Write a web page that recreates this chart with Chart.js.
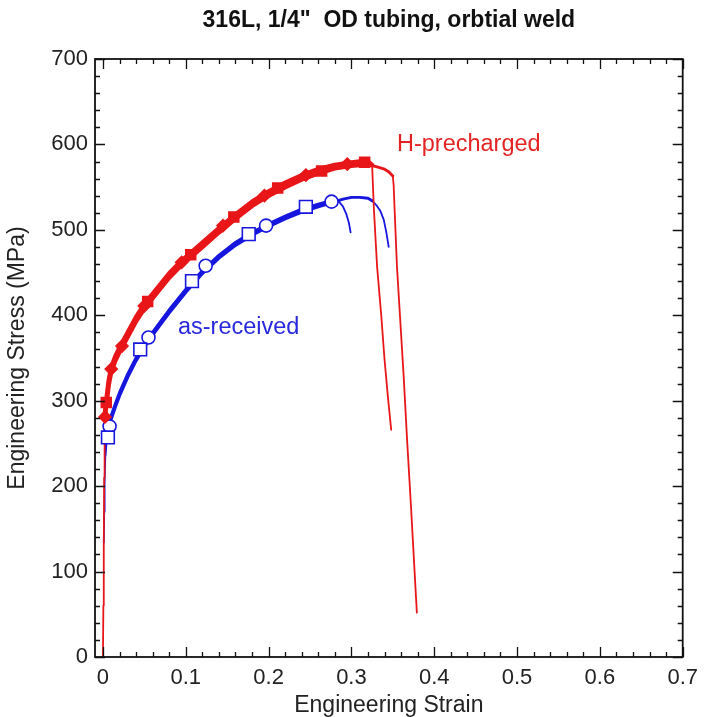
<!DOCTYPE html>
<html>
<head>
<meta charset="utf-8">
<script src="https://cdn.jsdelivr.net/npm/chart.js@4.4.1/dist/chart.umd.min.js"></script>
<style>
  html, body { margin: 0; padding: 0; background: #fff; }
  #wrap { width: 706px; height: 717px; }
</style>
</head>
<body>
<div id="wrap"><canvas id="c" width="706" height="717"></canvas></div>
<script>
// ---------- DATA ----------
const chartTitle = '316L, 1/4"  OD tubing, orbtial weld';
const xTickValues = [0, 0.1, 0.2, 0.3, 0.4, 0.5, 0.6, 0.7];
const xTickLabels = ['0', '0.1', '0.2', '0.3', '0.4', '0.5', '0.6', '0.7'];
const yTickValues = [0, 100, 200, 300, 400, 500, 600, 700];
const yTickLabels = ['0', '100', '200', '300', '400', '500', '600', '700'];

// H-precharged, specimen A
const redStrainA = [0, 0.0005, 0.001, 0.0015, 0.002, 0.004, 0.007, 0.010, 0.015, 0.020, 0.030, 0.040, 0.050, 0.060, 0.070, 0.080, 0.090, 0.100, 0.120, 0.140, 0.160, 0.180, 0.200, 0.220, 0.240, 0.260, 0.280, 0.300, 0.310, 0.320, 0.325, 0.327, 0.331, 0.336, 0.340, 0.344, 0.348];
const redStressA = [0, 60, 130, 210, 282, 300, 324, 339, 352, 362, 380, 398, 413, 425, 437, 449, 459, 468, 485, 502, 518, 533, 545, 555, 564, 571, 576, 579, 580, 580, 576, 527, 457, 400, 348, 305, 266];
// H-precharged, specimen B
const redStrainB = [0.002, 0.004, 0.007, 0.010, 0.015, 0.020, 0.030, 0.040, 0.050, 0.060, 0.070, 0.080, 0.090, 0.100, 0.120, 0.140, 0.160, 0.180, 0.200, 0.220, 0.240, 0.260, 0.280, 0.300, 0.310, 0.320, 0.330, 0.340, 0.345, 0.350, 0.351, 0.352, 0.355, 0.363, 0.367, 0.372, 0.379];
const redStressB = [278, 295, 319, 334, 347, 357, 375, 393, 408, 420, 432, 444, 454, 463, 480, 497, 513, 528, 540, 550, 559, 566, 572, 575, 576, 576, 574, 571, 568, 563, 552, 527, 457, 330, 258, 175, 52];
// as-received, specimen A
const blueStrainA = [0.001, 0.0015, 0.002, 0.003, 0.005, 0.008, 0.010, 0.015, 0.020, 0.030, 0.040, 0.050, 0.060, 0.070, 0.080, 0.090, 0.100, 0.120, 0.140, 0.160, 0.180, 0.200, 0.220, 0.240, 0.260, 0.280, 0.285, 0.290, 0.294, 0.297, 0.299];
const blueStressA = [134, 170, 205, 240, 262, 275, 282, 296, 309, 331, 350, 366, 380, 393, 406, 418, 430, 452, 470, 485, 497, 507, 516, 524, 530, 535, 533, 527, 518, 508, 497];
// as-received, specimen B
const blueStrainB = [0.003, 0.005, 0.008, 0.010, 0.015, 0.020, 0.030, 0.040, 0.050, 0.060, 0.070, 0.080, 0.090, 0.100, 0.120, 0.140, 0.160, 0.180, 0.200, 0.220, 0.240, 0.260, 0.280, 0.290, 0.300, 0.310, 0.320, 0.325, 0.330, 0.335, 0.339, 0.342, 0.345];
const blueStressB = [236, 258, 271, 279, 293, 306, 328, 347, 363, 377, 390, 403, 415, 427, 449, 467, 482, 494, 504, 513, 521, 527, 533, 536, 538, 538, 537, 534, 529, 522, 512, 498, 480];

// markers
const redSqStrain = [0.004, 0.054, 0.106, 0.158, 0.211, 0.264, 0.316];
const redSqStress = [298, 416, 471, 515, 549, 569, 579];
const redDiaStrain = [0.0025, 0.010, 0.023, 0.050, 0.095, 0.145, 0.195, 0.245, 0.295];
const redDiaStress = [281, 337, 364, 411, 462, 505, 540, 564, 577];
const blueSqStrain = [0.006, 0.045, 0.1075, 0.176, 0.245];
const blueSqStress = [257, 360, 440, 495, 527];
const blueCirStrain = [0.008, 0.055, 0.124, 0.197, 0.276];
const blueCirStress = [270, 374, 458, 505, 533];

const labelRed = 'H-precharged';
const labelBlue = 'as-received';

// ---------- BUILD ----------
const RED = 'rgb(232,22,24)';
const BLUE = 'rgb(22,22,222)';
const pts = (xs, ys) => xs.map((v, i) => ({ x: v, y: ys[i] }));

// wide band for the noisy plastic region, medium for the plateau, thin elsewhere
function bandWidth(from, to, midTo, wide, mid, thin) {
  return ctx => {
    const x0 = ctx.p0.parsed.x, x1 = ctx.p1.parsed.x;
    if (x0 >= from && x1 <= to) return wide;
    if (x0 >= to && x1 <= midTo) return mid;
    return thin;
  };
}
function lineSet(label, data, color, from, to, midTo, wide, mid, thin) {
  return {
    label, data, borderColor: color, backgroundColor: color,
    borderWidth: thin, pointRadius: 0, showLine: true, fill: false, tension: 0,
    borderJoinStyle: 'round', borderCapStyle: 'round',
    segment: { borderWidth: bandWidth(from, to, midTo, wide, mid, thin) }
  };
}
function markerSet(label, data, style, radius, border, fillColor) {
  return {
    label, data, showLine: false, pointStyle: style, pointRadius: radius,
    pointBorderColor: border, pointBackgroundColor: fillColor, pointBorderWidth: 1.6
  };
}

const datasets = [
  markerSet('H sq', pts(redSqStrain, redSqStress), 'rect', 7, RED, RED),
  markerSet('H dia', pts(redDiaStrain, redDiaStress), 'rectRot', 6, RED, RED),
  markerSet('AR sq', pts(blueSqStrain, blueSqStress), 'rect', 9, BLUE, '#fff'),
  markerSet('AR cir', pts(blueCirStrain, blueCirStress), 'circle', 6.5, BLUE, '#fff'),
  lineSet('H A', pts(redStrainA, redStressA), RED, 0.0019, 0.325, 0.325, 4.5, 2.6, 1.8),
  lineSet('H B', pts(redStrainB, redStressB), RED, 0.0019, 0.32, 0.3505, 4.5, 2.8, 1.8),
  lineSet('AR A', pts(blueStrainA, blueStressA), BLUE, 0.0049, 0.28, 0.28, 3.3, 2.4, 1.8),
  lineSet('AR B', pts(blueStrainB, blueStressB), BLUE, 0.0049, 0.28, 0.325, 3.3, 2.8, 1.8)
];

const FONT = '"Liberation Sans", Arial, Helvetica, sans-serif';

const frameTicks = {
  id: 'frameTicks',
  afterDraw(chart) {
    const { ctx, chartArea: a, scales: { x, y } } = chart;
    ctx.save();
    ctx.strokeStyle = '#111';
    ctx.lineWidth = 1.3;
    ctx.beginPath();
    for (let i = 0; i <= 35; i++) {
      const v = i * 0.02;
      const px = Math.round(x.getPixelForValue(v)) + 0.5;
      const len = (i % 5 === 0) ? 10 : 5;
      ctx.moveTo(px, a.bottom); ctx.lineTo(px, a.bottom - len);
      ctx.moveTo(px, a.top); ctx.lineTo(px, a.top + len);
    }
    for (let i = 0; i <= 35; i++) {
      const v = i * 20;
      const py = Math.round(y.getPixelForValue(v)) + 0.5;
      const len = (i % 5 === 0) ? 10 : 5;
      ctx.moveTo(a.left, py); ctx.lineTo(a.left + len, py);
      ctx.moveTo(a.right, py); ctx.lineTo(a.right - len, py);
    }
    ctx.stroke();
    ctx.lineWidth = 1.8;
    ctx.strokeRect(a.left, a.top, a.right - a.left, a.bottom - a.top);
    // title, centred over the plot area
    ctx.font = 'bold 23px ' + FONT;
    ctx.textBaseline = 'middle';
    ctx.textAlign = 'center';
    ctx.fillStyle = '#111';
    ctx.fillText(chartTitle, (a.left + a.right) / 2, 21);
    // annotations
    ctx.font = '23.5px ' + FONT;
    ctx.textAlign = 'left';
    ctx.fillStyle = 'rgb(228,36,36)';
    ctx.fillText(labelRed, x.getPixelForValue(0.355), y.getPixelForValue(600));
    ctx.fillStyle = 'rgb(40,40,222)';
    ctx.fillText(labelBlue, x.getPixelForValue(0.0905), y.getPixelForValue(386));
    ctx.restore();
  }
};

new Chart(document.getElementById('c'), {
  type: 'scatter',
  data: { datasets },
  options: {
    responsive: false,
    animation: false,
    events: [],
    layout: { padding: { left: 0, right: 17, top: 59, bottom: 0 } },
    plugins: {
      legend: { display: false },
      tooltip: { enabled: false },
      title: { display: false }
    },
    scales: {
      x: {
        type: 'linear', min: -0.0096, max: 0.7,
        grid: { display: false, drawTicks: false },
        border: { display: false },
        afterBuildTicks: s => { s.ticks = xTickValues.map(v => ({ value: v })); },
        afterFit: s => { s.height = 60; },
        ticks: {
          color: '#222', padding: 8,
          font: { family: FONT, size: 22 },
          callback: (v) => { const i = xTickValues.indexOf(v); return i >= 0 ? xTickLabels[i] : ''; },
          maxRotation: 0, autoSkip: false
        },
        title: {
          display: true, text: 'Engineering Strain', color: '#222',
          font: { family: FONT, size: 23 }, padding: { top: 0, bottom: -2 }
        }
      },
      y: {
        type: 'linear', min: 0, max: 700,
        grid: { display: false, drawTicks: false },
        border: { display: false },
        afterBuildTicks: s => { s.ticks = yTickValues.map(v => ({ value: v })); },
        afterFit: s => { s.width = 95; },
        ticks: {
          color: '#222', padding: 7,
          font: { family: FONT, size: 22 },
          callback: (v) => { const i = yTickValues.indexOf(v); return i >= 0 ? yTickLabels[i] : ''; },
          autoSkip: false
        },
        title: {
          display: true, text: 'Engineering Stress (MPa)', color: '#222',
          font: { family: FONT, size: 23 }, padding: { top: 4, bottom: 0 }
        }
      }
    }
  },
  plugins: [frameTicks]
});
</script>
</body>
</html>
